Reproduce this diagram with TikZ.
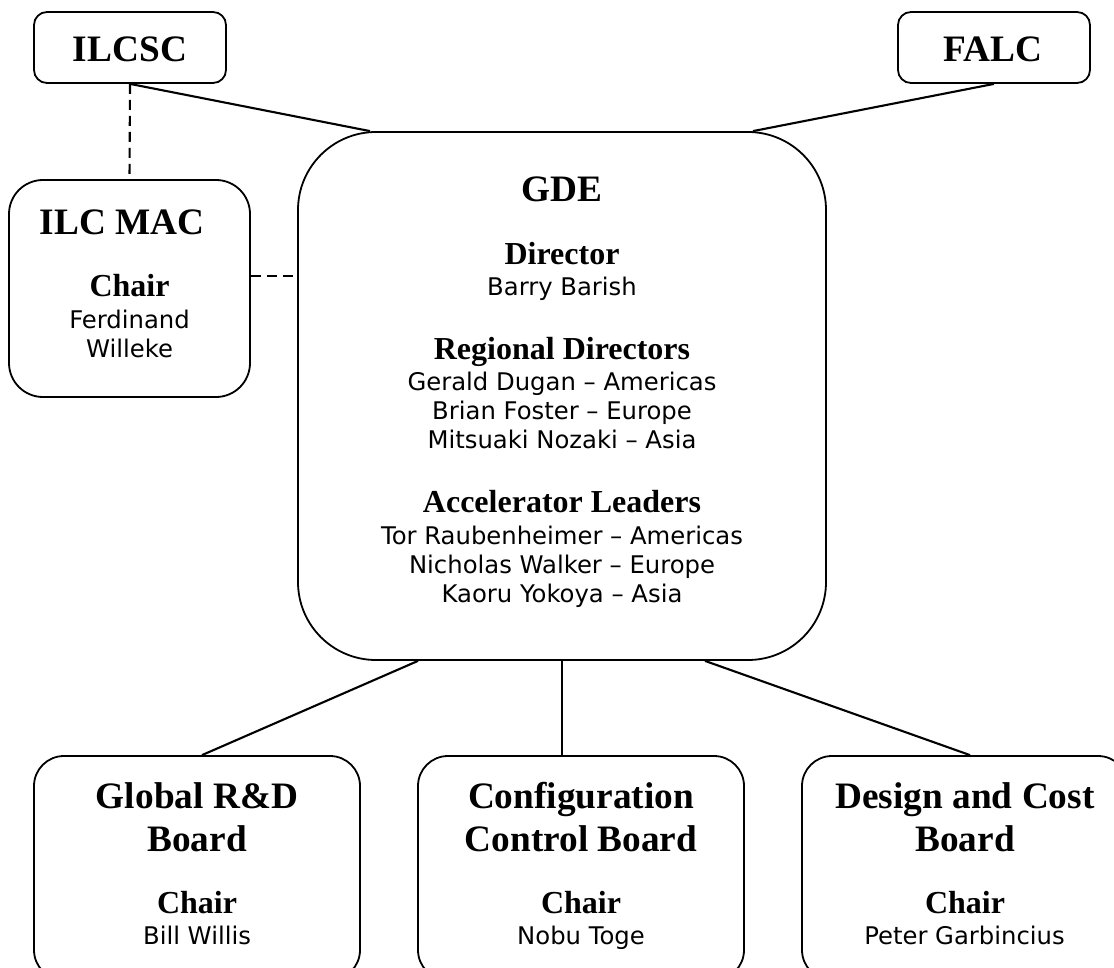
\documentclass[tikz,border=0pt]{standalone}
\usepackage{fontspec}
\setmainfont{Liberation Serif}
\newfontfamily\namefont{DejaVu Sans}
\begin{document}
\begin{tikzpicture}[x=1pt,y=-1pt,
  box/.style={draw, line width=1.8pt, rounded corners=#1, inner sep=0pt, rectangle},
  conn/.style={line width=2.1pt},
  dashline/.style={line width=2.1pt, dash pattern=on 10pt off 6pt},
  ttl/.style={font=\fontsize{37.3}{43}\selectfont\bfseries, inner sep=0pt, anchor=base},
  hd/.style={font=\fontsize{32}{36}\selectfont\bfseries, inner sep=0pt, anchor=base},
  person/.style={font=\namefont\fontsize{24.3}{29}\selectfont, inner sep=0pt, anchor=base}]
\useasboundingbox (0,0) rectangle (1114,968);
\fill[white] (0,0) rectangle (1114,968);
\clip (0,0) rectangle (1114,968);

% boxes
\node[box=13pt, minimum width=192pt, minimum height=71pt] (ilcsc) at (130,47.5) {};
\node[box=13pt, minimum width=192pt, minimum height=71pt] (falc) at (994,47.5) {};
\node[box=34pt, minimum width=241pt, minimum height=217pt] (mac) at (129.5,288.5) {};
\node[box=78pt, minimum width=528pt, minimum height=528pt] (gde) at (562,396) {};
\node[box=30pt, minimum width=326pt, minimum height=224pt] (global) at (197,868) {};
\node[box=30pt, minimum width=326pt, minimum height=224pt] (config) at (581,868) {};
\node[box=30pt, minimum width=326pt, minimum height=224pt] (design) at (965,868) {};

% connectors
\draw[conn] (ilcsc.south) -- ([xshift=-192pt]gde.north);
\draw[dashline] (ilcsc.south) -- (mac.north);
\coordinate (macout) at ([yshift=12.5pt]mac.east);
\draw[dashline] (macout) -- (macout -| gde.west);
\draw[conn] (falc.south) -- ([xshift=191pt]gde.north);
\draw[conn] ([xshift=-144pt]gde.south) -- ([xshift=5pt]global.north);
\draw[conn] (gde.south) -- ([xshift=-19pt]config.north);
\draw[conn] ([xshift=143pt]gde.south) -- ([xshift=5pt]design.north);

% texts
\node[ttl] (tilcsc) at (130,61.7) {ILCSC};
\node[ttl] (tfalc) at (993,61.7) {FALC};

\node[ttl] (tmac) at (122,235) {ILC MAC};
\node[hd] (macchair) at (129.5,296.7) {Chair};
\node[person] (macn1) at (129.5,328.3) {Ferdinand};
\node[person] (macn2) at (129.5,357.3) {Willeke};

\node[ttl] (tgde) at (562,201.5) {GDE};
\node[hd] (tdir) at (562,264.9) {Director};
\node[person] (ndir) at (562,295.5) {Barry Barish};
\node[hd] (treg) at (562,359.9) {Regional Directors};
\node[person] (nreg1) at (562,390.1) {Gerald Dugan – Americas};
\node[person] (nreg2) at (562,419.4) {Brian Foster – Europe};
\node[person] (nreg3) at (562,448.6) {Mitsuaki Nozaki – Asia};
\node[hd] (tacc) at (562,512.3) {Accelerator Leaders};
\node[person] (nacc1) at (562,544.3) {Tor Raubenheimer – Americas};
\node[person] (nacc2) at (562,573.6) {Nicholas Walker – Europe};
\node[person] (nacc3) at (562,602.6) {Kaoru Yokoya – Asia};

\node[ttl] (tglob1) at (197,808.3) {Global R\&D};
\node[ttl] (tglob2) at (197,851.7) {Board};
\node[hd] (globchair) at (197,913.3) {Chair};
\node[person] (globn) at (197,944) {Bill Willis};

\node[ttl] (tconf1) at (581,808.3) {Configuration};
\node[ttl] (tconf2) at (581,851.7) {Control Board};
\node[hd] (confchair) at (581,913.3) {Chair};
\node[person] (confn) at (581,944) {Nobu Toge};

\node[ttl] (tdes1) at (965,808.3) {Design and Cost};
\node[ttl] (tdes2) at (965,851.7) {Board};
\node[hd] (deschair) at (965,913.3) {Chair};
\node[person] (desn) at (964.5,944) {Peter Garbincius};
\end{tikzpicture}
\end{document}
